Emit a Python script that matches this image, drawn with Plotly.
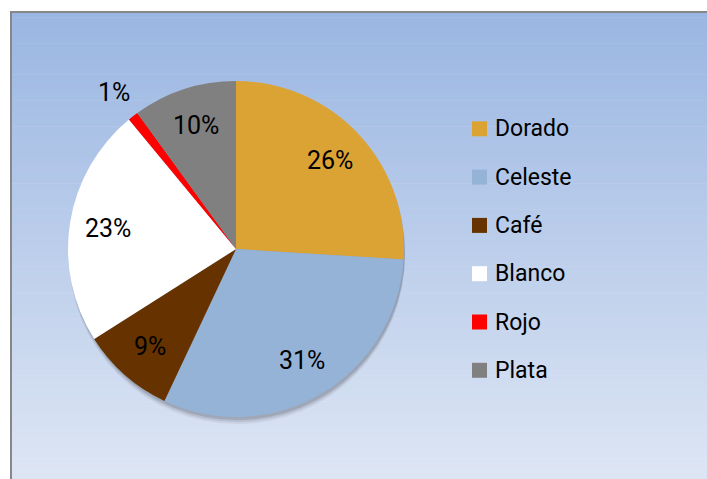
import math
import plotly.graph_objects as go

# Colour share of the sample, clockwise from 12 o'clock
categories = ["Dorado", "Celeste", "Café", "Blanco", "Rojo", "Plata"]
shares = [26, 31, 9, 23, 1, 10]
colors = ["#DBA334", "#94B3D7", "#663300", "#FFFFFF", "#FF0000", "#808080"]

W, H = 707, 479
CX, CY, R = 236, 249, 168          # pie centre and radius in pixels
FONT = "Roboto"


def px(x):
    return x / W


def py(y):
    return 1 - y / H


def mix(c1, c2, t):
    return "rgb({},{},{})".format(*[round(a + (b - a) * t) for a, b in zip(c1, c2)])


shapes = []

# vertical gradient of the chart area
top_rgb, bot_rgb = (154, 182, 226), (222, 230, 244)
y0, y1 = 12, H
n = 90
for i in range(n):
    ya = y0 + (y1 - y0) * i / n
    yb = y0 + (y1 - y0) * (i + 1) / n + 0.6
    shapes.append(dict(type="rect", xref="paper", yref="paper", layer="below",
                       x0=px(11), x1=1.01, y0=py(min(yb, H)), y1=py(ya),
                       line=dict(width=0), fillcolor=mix(top_rgb, bot_rgb, i / n)))

# frame
shapes.append(dict(type="rect", xref="paper", yref="paper", layer="below",
                   x0=px(11), x1=px(W + 5), y0=py(H + 5), y1=py(12),
                   line=dict(color="#878787", width=2), fillcolor="rgba(0,0,0,0)"))

# soft drop shadow under the pie
for off, alpha in [(7, 0.08), (5, 0.12), (3, 0.18)]:
    shapes.append(dict(type="circle", xref="paper", yref="paper", layer="below",
                       x0=px(CX - R + 1), x1=px(CX + R + 1),
                       y0=py(CY + R + off), y1=py(CY - R + off),
                       line=dict(width=0), fillcolor=f"rgba(60,60,70,{alpha})"))

fig = go.Figure(go.Pie(
    labels=categories,
    values=shares,
    marker=dict(colors=colors, line=dict(width=0)),
    sort=False,
    direction="clockwise",
    rotation=0,
    textinfo="none",
    hoverinfo="label+percent",
    showlegend=False,
    domain=dict(x=[px(CX - R), px(CX + R)], y=[py(CY + R), py(CY - R)]),
))

annotations = []

# percentage labels placed along each slice's bisector
total = sum(shares)
cum = 0
for name, v in zip(categories, shares):
    mid = (cum + v / 2) / total * 2 * math.pi
    cum += v
    k = 1.18 if v / total < 0.03 else 0.77
    lx = CX + k * R * math.sin(mid)
    ly = CY - k * R * math.cos(mid)
    annotations.append(dict(x=px(lx), y=py(ly), xref="paper", yref="paper",
                            text=f"{v}%", showarrow=False,
                            xanchor="center", yanchor="middle",
                            font=dict(family=FONT, size=25, color="#000000")))

# legend: coloured squares with category names
LX, LY0, LSTEP, SQ = 472, 128.8, 48.3, 15
for i, (name, c) in enumerate(zip(categories, colors)):
    yc = LY0 + i * LSTEP
    shapes.append(dict(type="rect", xref="paper", yref="paper",
                       x0=px(LX), x1=px(LX + SQ), y0=py(yc + SQ / 2), y1=py(yc - SQ / 2),
                       line=dict(width=0), fillcolor=c))
    annotations.append(dict(x=px(LX + SQ + 6), y=py(yc), xref="paper", yref="paper",
                            text=name, showarrow=False, xanchor="left", yanchor="middle",
                            font=dict(family=FONT, size=23, color="#000000")))

fig.update_layout(
    width=W, height=H,
    margin=dict(l=0, r=0, t=0, b=0),
    paper_bgcolor="#FFFFFF",
    plot_bgcolor="rgba(0,0,0,0)",
    shapes=shapes,
    annotations=annotations,
)

fig.write_html("out.html")
